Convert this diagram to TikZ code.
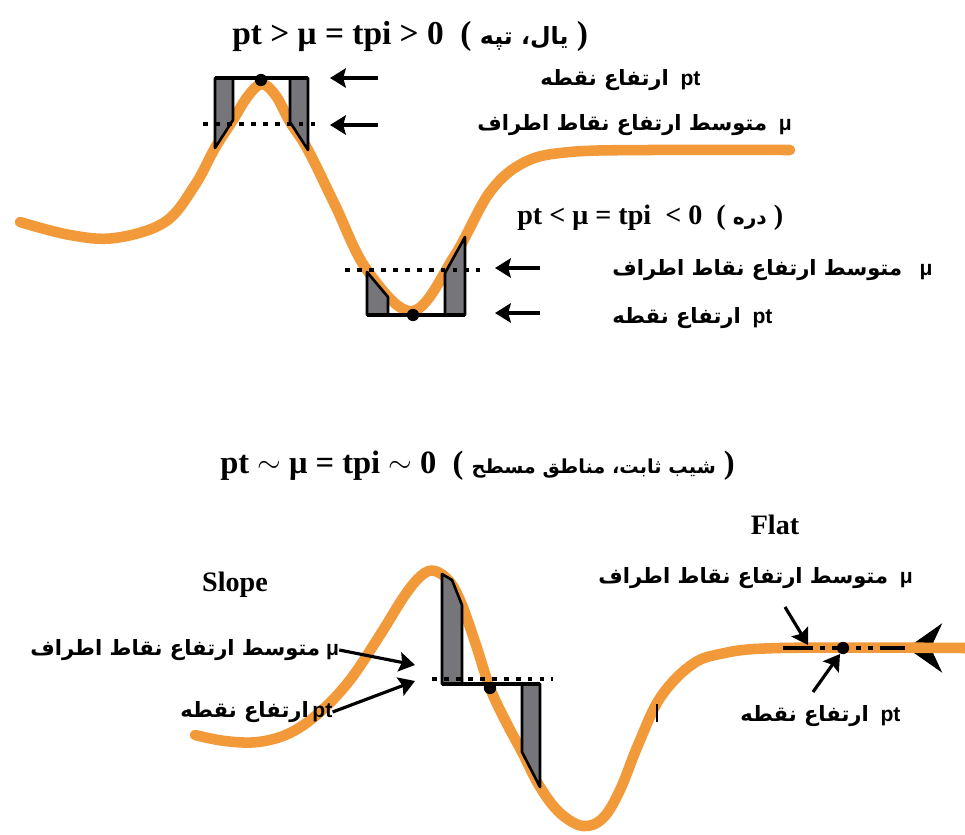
\documentclass[tikz,border=0pt]{standalone}
\usepackage{fontspec}
\setmainfont{Liberation Serif}
\setsansfont{Liberation Sans}
\newfontfamily\fafont[Script=Arabic]{DejaVu Sans}
\usetikzlibrary{arrows.meta}
\TeXXeTstate=1
\definecolor{ridge}{RGB}{242,154,58}
\definecolor{pitgray}{RGB}{118,118,122}
\newcommand{\fa}[1]{{\fafont\bfseries\beginR #1\endR}}
\newcommand{\approxsign}{\raisebox{0.1ex}{$\sim$}}

\begin{document}
\begin{tikzpicture}[
  x=0.02cm, y=-0.02cm,
  terrain/.style={draw=ridge, line width=6pt, line cap=round},
  well/.style={fill=pitgray, draw=black, line width=1.5pt, line join=round},
  rim/.style={draw=black, line width=1.8pt},
  avg/.style={draw=black, line width=2.8pt, dash pattern=on 2.8pt off 4pt},
  ptr/.style={draw=black, line width=1.8pt, -{Stealth[length=9pt,width=11pt,inset=1.5pt]}},
  spot/.style={circle, fill=black, inner sep=0pt, minimum size=7pt},
  formula/.style={font=\bfseries\fontsize{19}{21}\selectfont, inner sep=0pt},
  tag/.style={font=\bfseries\sffamily\fontsize{12}{14}\selectfont, inner sep=0pt},
  head/.style={font=\bfseries\fontsize{16}{18}\selectfont, inner sep=0pt}
]
\useasboundingbox (0,0) rectangle (965,835);

\draw[terrain] plot[smooth, tension=0.6] coordinates {(20,222) (70,235) (115,238) (165,222) (195,185) (215,148) (233,120) (248,96) (262,84) (276,96) (290,122) (308,150) (335,205) (367,270) (413,311) (455,255) (490,192) (525,162) (570,152) (650,150) (790,150)};

\draw[well] (215,78) -- (233,78) -- (233,120) -- (215,148) -- cycle;
\draw[well] (290,78) -- (308,78) -- (308,150) -- (290,122) -- cycle;
\draw[rim] (215,78) -- (308,78);
\draw[avg] (203,124) -- (322,124);
\node[spot] (hilltop) at (261,80) {};

\draw[well] (367,315) -- (388,315) -- (388,297) -- (367,272) -- cycle;
\draw[well] (445,315) -- (465,315) -- (465,237) -- (445,273) -- cycle;
\draw[rim] (367,315) -- (465,315);
\draw[avg] (345,270) -- (480,270);
\node[spot] (pitbottom) at (413,315) {};

\node[formula, anchor=west] (hilltitle) at (232,36) {pt > μ = tpi > 0\ \ ( {\fontsize{13.5}{15}\selectfont\fa{یال، تپه}} )};
\node[tag, anchor=west] (hillpt) at (540,80) {\fa{ارتفاع نقطه}\ \ pt};
\node[tag, anchor=west] (hillmu) at (477,125) {\fa{متوسط ارتفاع نقاط اطراف}\ \ μ};
\coordinate (hillptfrom) at (378,78);
\coordinate (hillptto) at (330,78);
\coordinate (hillmufrom) at (378,125);
\coordinate (hillmuto) at (330,125);
\draw[ptr] (hillptfrom) -- (hillptto);
\draw[ptr] (hillmufrom) -- (hillmuto);

\node[formula, font=\bfseries\fontsize{16}{18}\selectfont, anchor=west] (pittitle) at (517,218) {pt < μ = tpi \ < 0\ \ ( {\fontsize{11.5}{14}\selectfont\fa{دره}} )};
\node[tag, anchor=west] (pitmu) at (612,270) {\fa{متوسط ارتفاع نقاط اطراف}\ \ \ μ};
\node[tag, anchor=west] (pitpt) at (612,318) {\fa{ارتفاع نقطه}\ \ pt};
\coordinate (pitmufrom) at (540,268);
\coordinate (pitmuto) at (495,268);
\coordinate (pitptfrom) at (540,313);
\coordinate (pitptto) at (495,313);
\draw[ptr] (pitmufrom) -- (pitmuto);
\draw[ptr] (pitptfrom) -- (pitptto);

\node[formula, font=\bfseries\fontsize{18.5}{21}\selectfont, anchor=west] (flattitle) at (220,466) {pt \approxsign{} μ = tpi \approxsign{} 0\ \ ( {\fontsize{11}{14}\selectfont\fa{شیب ثابت، مناطق مسطح}} )};
\node[head] (slopehead) at (235,585) {Slope};
\node[head] (flathead) at (775,525) {Flat};

\coordinate (edgefrom) at (950,648);
\coordinate (edgeto) at (907,648);
\draw[draw=black, line width=1.5pt, -{Stealth[length=20pt,width=28pt]}] (edgefrom) -- (edgeto);

\draw[terrain] plot[smooth, tension=0.6] coordinates {(195,735) (225,741) (258,742) (290,733) (320,712) (350,680) (380,635) (405,595) (422,575) (435,571) (450,582) (462,605) (476,645) (490,688) (506,722) (522,752) (540,787) (560,813) (583,826) (603,818) (620,790) (638,745) (660,698) (690,666) (720,654) (780,648) (965,648)};

\draw[well] (442,574) -- (452,580) -- (462,605) -- (462,684) -- (442,684) -- cycle;
\draw[well] (522,684) -- (540,684) -- (540,787) -- (522,752) -- cycle;
\draw[rim] (442,684) -- (540,684);
\draw[avg, line width=2.2pt] (432,679) -- (553,679);
\node[spot] (slopemid) at (490,688) {};

\node[tag, anchor=west] (slopemu) at (30,650) {\fa{متوسط ارتفاع نقاط اطراف}\ μ};
\node[tag, anchor=west] (slopept) at (180,712) {\fa{ارتفاع نقطه}\,pt};
\coordinate (slopemuto) at (415,665);
\coordinate (slopeptto) at (415,681);
\draw[ptr] (slopemu.east) -- (slopemuto);
\draw[ptr] (slopept.east) -- (slopeptto);
\draw[line width=1.2pt] (657,704) -- (657,722);

\draw[line width=2.8pt] (783,648) -- (808,648);
\draw[avg] (808,648) -- (880,648);
\draw[line width=2.8pt] (880,648) -- (905,648);
\node[spot] (flatmid) at (843,648) {};
\node[tag, anchor=west] (flatmu) at (598,578) {\fa{متوسط ارتفاع نقاط اطراف}\ \ μ};
\node[tag, anchor=west] (flatpt) at (740,716) {\fa{ارتفاع نقطه}\ \ pt};
\coordinate (flatmufrom) at (785,607);
\coordinate (flatmuto) at (808,645);
\coordinate (flatptfrom) at (813,692);
\coordinate (flatptto) at (840,654);
\draw[ptr] (flatmufrom) -- (flatmuto);
\draw[ptr] (flatptfrom) -- (flatptto);
\end{tikzpicture}
\end{document}
